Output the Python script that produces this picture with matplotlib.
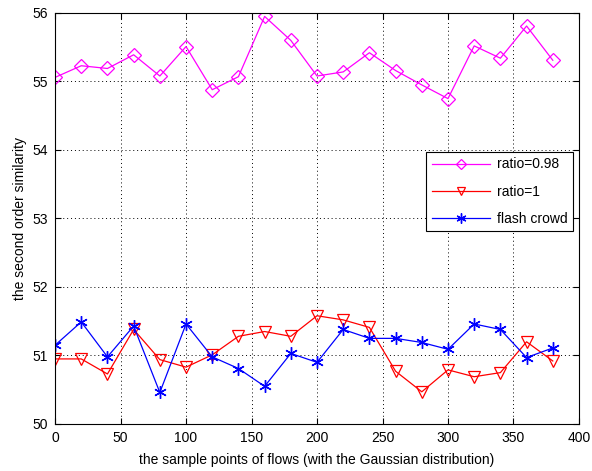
import numpy as np
import matplotlib
matplotlib.use('Agg')
import matplotlib.pyplot as plt

plt.rcParams['font.family'] = ['Liberation Sans', 'DejaVu Sans']

# sample points
x = list(range(0, 400, 20))

ratio_098 = [55.06, 55.23, 55.19, 55.39, 55.08, 55.51, 54.88, 55.07, 55.95, 55.60,
             55.08, 55.14, 55.42, 55.16, 54.95, 54.75, 55.52, 55.34, 55.81, 55.31]
ratio_1 = [50.95, 50.95, 50.73, 51.38, 50.94, 50.83, 51.01, 51.28, 51.35, 51.28,
           51.58, 51.52, 51.41, 50.77, 50.47, 50.79, 50.69, 50.75, 51.20, 50.92]
flash_crowd = [51.15, 51.49, 50.98, 51.43, 50.46, 51.46, 50.98, 50.81, 50.55, 51.03,
               50.90, 51.38, 51.25, 51.25, 51.19, 51.09, 51.46, 51.38, 50.97, 51.11]

fig = plt.figure(figsize=(5.92, 4.71), dpi=100)
ax = fig.add_axes([0.093, 0.0998, 0.885, 0.8726])

ax.plot(x, ratio_098, color='#ff00ff', lw=0.9, marker='D', markersize=7,
        markerfacecolor='none', markeredgewidth=0.9, label='ratio=0.98')
ax.plot(x, ratio_1, color='#ff0000', lw=0.9, marker='v', markersize=8,
        markerfacecolor='none', markeredgewidth=0.9, label='ratio=1')
ax.plot(x, flash_crowd, color='#0000ff', lw=0.9, marker=(6, 2, 0), markersize=9,
        markeredgewidth=1.0, label='flash crowd')

ax.set_xlim(0, 400)
ax.set_ylim(50, 56)
ax.set_xticks(np.arange(0, 401, 50))
ax.set_yticks(np.arange(50, 57, 1))
ax.grid(True, color='black', linestyle=(0, (1, 3)), linewidth=0.7)
ax.tick_params(direction='in', top=True, right=True, labelsize=10, length=4, pad=5)
for s in ax.spines.values():
    s.set_linewidth(0.8)

ax.set_xlabel('the sample points of flows (with the Gaussian distribution)', fontsize=10,
              labelpad=6)
ax.set_ylabel('the second order similarity', fontsize=10)

leg = ax.legend(loc='upper right', bbox_to_anchor=(0.989, 0.662), fontsize=10,
                fancybox=False, framealpha=1, edgecolor='black', borderaxespad=0,
                handlelength=4.2, labelspacing=0.95, markerscale=0.8,
                handletextpad=0.5)
leg.get_frame().set_linewidth(0.8)

plt.savefig('out.png', dpi=100)
